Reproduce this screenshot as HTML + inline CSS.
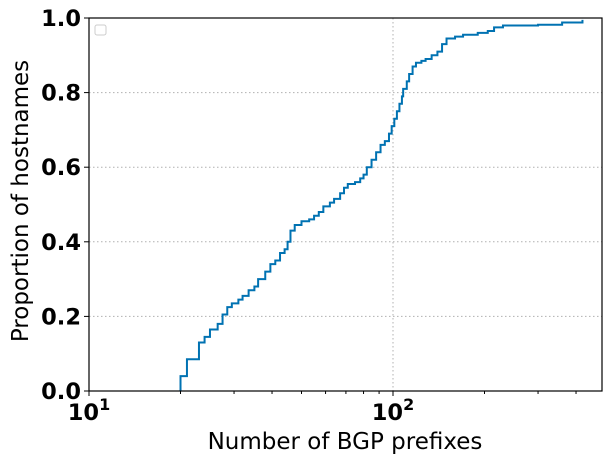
<!DOCTYPE html>
<html><head><meta charset="utf-8"><style>
body{margin:0;background:#fff;font-family:"DejaVu Sans","Liberation Sans",sans-serif}
</style></head><body>
<svg id="chart" width="611" height="465" xmlns="http://www.w3.org/2000/svg" font-family="DejaVu Sans, Liberation Sans, sans-serif">
<g id="grid"></g>
<g id="axes"></g>
<path id="curve" fill="none" stroke="#0072b2" stroke-width="2"/>
<rect x="89" y="18" width="513" height="373" fill="none" stroke="#000" stroke-width="1.2"/>
<rect x="95" y="25" width="11" height="10" rx="2" fill="#fff" stroke="#ccc"/>
<text x="345" y="449" text-anchor="middle" font-size="23">Number of BGP prefixes</text>
<text transform="translate(28,201) rotate(-90)" text-anchor="middle" font-size="23">Proportion of hostnames</text>
</svg>
<script>
const xVals=[20,21,23,24,25,26.5,27.5,28.5,29.5,31,32,33.5,35,36,38,39.5,41,42.5,44,45,46,47.5,50,53,55,57,59,62,64,67,69,71,75,78,80,82,85,88,91,94,97,99,101,103,105,107,108,111,113,116,119,124,128,134,140,145,150,160,170,190,205,215,230,300,360,420];
const yVals=[0.04,0.085,0.13,0.145,0.165,0.18,0.205,0.225,0.235,0.245,0.255,0.27,0.28,0.30,0.32,0.34,0.35,0.37,0.38,0.40,0.43,0.445,0.455,0.46,0.47,0.48,0.495,0.505,0.515,0.53,0.545,0.555,0.56,0.57,0.58,0.60,0.62,0.64,0.66,0.67,0.69,0.71,0.73,0.75,0.77,0.79,0.81,0.83,0.85,0.87,0.88,0.885,0.89,0.90,0.91,0.93,0.945,0.95,0.955,0.96,0.965,0.975,0.98,0.982,0.988,0.995];
const yTicks=[0,0.2,0.4,0.6,0.8,1.0];
const yTickLabels=["0.0","0.2","0.4","0.6","0.8","1.0"];
const xMajor=[10,100];
const xMajorLabels=["1","2"];
const L=89,R=602,T=18,B=391,decade=304;
const sx=v=>L+(Math.log10(v)-1)*decade;
const sy=v=>B-v*(B-T);
const NS="http://www.w3.org/2000/svg";
const grid=document.getElementById('grid'),axes=document.getElementById('axes');
function mk(tag,attrs,parent){const e=document.createElementNS(NS,tag);for(const k in attrs)e.setAttribute(k,attrs[k]);parent.appendChild(e);return e;}
yTicks.forEach((t,i)=>{
  const y=sy(t);
  if(t>0&&t<1){const g=mk('line',{x1:L,x2:R,y1:y,y2:y,stroke:'#b0b0b0','stroke-dasharray':'1.5,2.5','stroke-width':1},grid);
  
  }
  mk('line',{x1:L-5,x2:L,y1:y,y2:y,stroke:'#000'},axes);
  const tx=mk('text',{x:L-8,y:y+8,'text-anchor':'end','font-size':22.5,'font-weight':'bold'},axes);
  tx.textContent=yTickLabels[i];
  
  
});
xMajor.forEach((v,i)=>{
  const x=sx(v);
  if(x>L){const g=mk('line',{x1:x,x2:x,y1:T,y2:B,stroke:'#b0b0b0','stroke-dasharray':'1.5,2.5','stroke-width':1},grid);
  
  }
  mk('line',{x1:x,x2:x,y1:B,y2:B+5,stroke:'#000'},axes);
  const tx=mk('text',{x:x,y:B+29,'text-anchor':'middle','font-size':22.5,'font-weight':'bold'},axes);
  tx.innerHTML='10<tspan dy="-10" font-size="16">'+xMajorLabels[i]+'</tspan>';
  
  
});
for(let d=10;d<=100;d*=10){for(let m=2;m<=9;m++){const v=d*m;const x=sx(v);if(x<R)mk('line',{x1:x,x2:x,y1:B,y2:B+3,stroke:'#000'},axes);}}
let p='M'+sx(xVals[0])+','+sy(0);
for(let i=0;i<xVals.length;i++){
  const x=sx(xVals[i]);
  if(i>0)p+=' L'+x+','+sy(yVals[i-1]);
  p+=' L'+x+','+sy(yVals[i]);
}
document.getElementById('curve').setAttribute('d',p);
</script>
</body></html>
